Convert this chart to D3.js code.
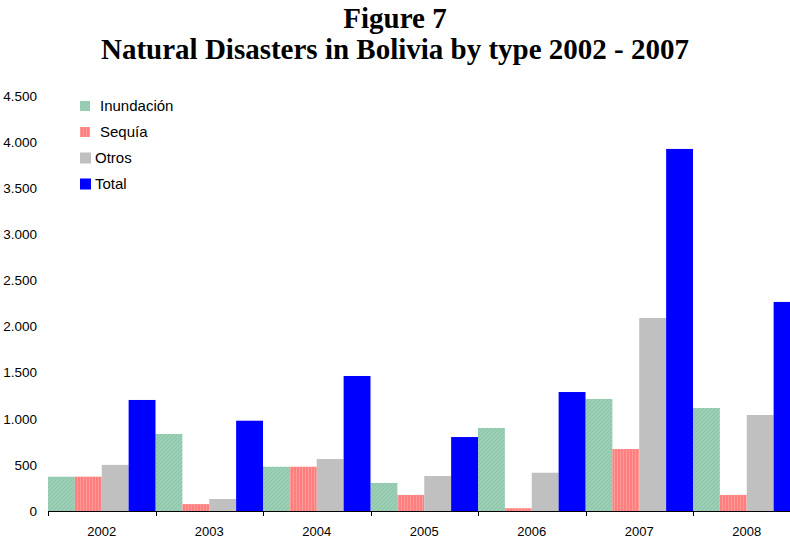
<!DOCTYPE html>
<html><head><meta charset="utf-8">
<script src="https://cdn.jsdelivr.net/npm/d3@7"></script>
<style>body{margin:0;background:#fff}svg{display:block}</style>
</head><body>
<script>
const years = ["2002","2003","2004","2005","2006","2007","2008"];
const seriesNames = ["Inundación","Sequía","Otros","Total"];
const inundacion = [372, 835, 480, 304, 900, 1215, 1117];
const sequia     = [372, 75, 480, 174, 30, 672, 174];
const otros      = [500, 130, 564, 380, 415, 2093, 1041];
const total      = [1204, 979, 1464, 802, 1290, 3926, 2267];
const yTicks = [0, 500, 1000, 1500, 2000, 2500, 3000, 3500, 4000, 4500];
const titleLines = ["Figure 7", "Natural Disasters in Bolivia by type 2002 - 2007"];

const seriesValues = [inundacion, sequia, otros, total];
const fills = ["url(#pInund)", "url(#pSeq)", "#C0C0C0", "#0000FF"];
const legendFills = fills;

const W = 790, H = 542;
const svg = d3.select("body").append("svg").attr("width", W).attr("height", H);
const defs = svg.append("defs");
const p1 = defs.append("pattern").attr("id","pInund").attr("patternUnits","userSpaceOnUse").attr("width",4).attr("height",4);
p1.append("rect").attr("width",4).attr("height",4).attr("fill","#9ACFB6");
p1.append("path").attr("d","M0,4 L4,0 M-1,1 L1,-1 M3,5 L5,3").attr("stroke","#8CC4A8").attr("stroke-width",1);
const p2 = defs.append("pattern").attr("id","pSeq").attr("patternUnits","userSpaceOnUse").attr("width",3).attr("height",3);
p2.append("rect").attr("width",3).attr("height",3).attr("fill","#FF7F7F");
p2.append("rect").attr("x",2).attr("width",1).attr("height",3).attr("fill","#FF9A9A");

const x = d3.scaleBand().domain(years).range([48, 800.5]).padding(0);
const xi = d3.scaleBand().domain(seriesNames).range([0, x.bandwidth()]).padding(0);
const y = d3.scaleLinear().domain([0, 4500]).range([511, 96]);

const loc = d3.formatLocale({decimal: ",", thousands: ".", grouping: [3], currency: ["", ""]});
const fmt = loc.format(",d");

// Title
svg.append("g").selectAll("text").data(titleLines).join("text")
  .attr("x", 395).attr("y", (d,i) => 28 + i*31)
  .attr("text-anchor","middle")
  .attr("font-family","'Liberation Serif', 'Times New Roman', serif")
  .attr("font-weight","bold").attr("font-size", 29).attr("fill","#000")
  .text(d => d);

// Y labels
svg.append("g").selectAll("text").data(yTicks).join("text")
  .attr("x", 37).attr("y", d => y(d)).attr("dy","0.35em")
  .attr("text-anchor","end")
  .attr("font-family","'Liberation Sans', Arial, sans-serif").attr("font-size",13.5).attr("fill","#000")
  .text(d => fmt(d));

// Bars
const g = svg.append("g");
seriesNames.forEach((s, si) => {
  g.append("g").selectAll("rect").data(years).join("rect")
    .attr("x", (d) => x(d) + xi(s))
    .attr("width", xi.bandwidth())
    .attr("y", (d,i) => y(seriesValues[si][i]))
    .attr("height", (d,i) => y(0) - y(seriesValues[si][i]))
    .attr("fill", fills[si]);
});

// X axis
const ax = svg.append("g");
ax.append("line").attr("x1", 48).attr("x2", 800.5).attr("y1", 511.5).attr("y2", 511.5).attr("stroke","#000");
ax.selectAll("line.tk").data(years).join("line").attr("class","tk")
  .attr("x1", d => Math.round(x(d)) + 0.5).attr("x2", d => Math.round(x(d)) + 0.5)
  .attr("y1", 511).attr("y2", 516).attr("stroke","#000");
ax.selectAll("text").data(years).join("text")
  .attr("x", d => x(d) + x.bandwidth()/2).attr("y", 536)
  .attr("text-anchor","middle")
  .attr("font-family","'Liberation Sans', Arial, sans-serif").attr("font-size",13).attr("fill","#000")
  .text(d => d);

// Legend
const legendTextX = [100, 100, 95, 95];
const legendRowY = [106, 132, 157.5, 183.5];
const lg = svg.append("g");
seriesNames.forEach((s, i) => {
  lg.append("rect").attr("x", 80).attr("y", legendRowY[i] - 5).attr("width", i < 2 ? 10 : 11).attr("height", i < 2 ? 10 : 11)
    .attr("fill", legendFills[i]);
  lg.append("text").attr("x", legendTextX[i]).attr("y", legendRowY[i]).attr("dy","0.35em")
    .attr("font-family","'Liberation Sans', Arial, sans-serif").attr("font-size",15).attr("fill","#000")
    .text(s);
});
</script>
</body></html>
